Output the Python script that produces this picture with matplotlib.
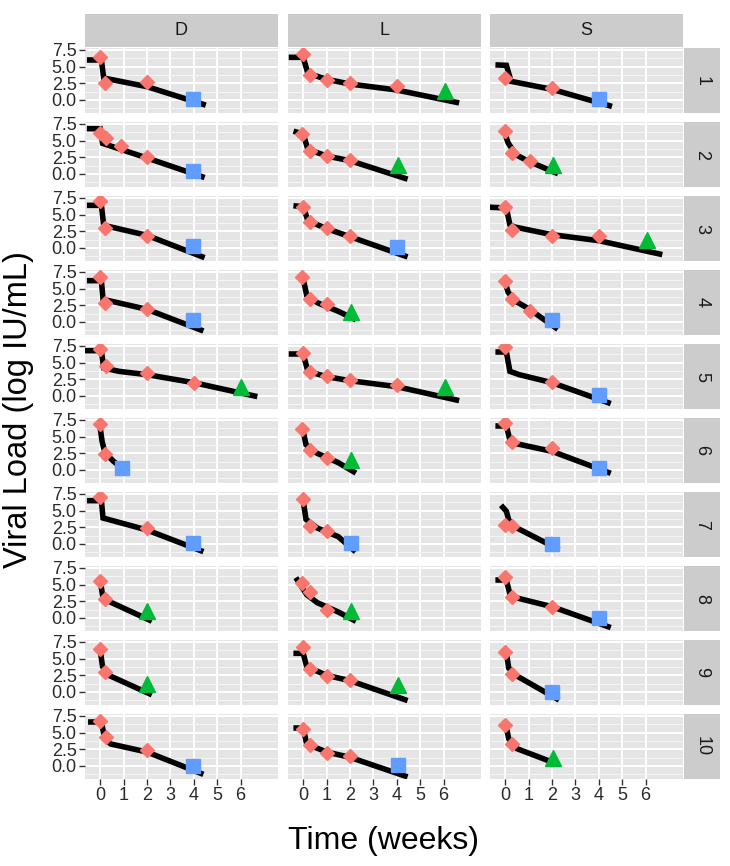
import matplotlib.pyplot as plt

plt.rcParams['font.family'] = ['Liberation Sans', 'DejaVu Sans']

groups = ['D', 'L', 'S']
patients = ['1', '2', '3', '4', '5', '6', '7', '8', '9', '10']
x_ticks = [0, 1, 2, 3, 4, 5, 6]
y_ticks = [0, 2.5, 5, 7.5]
y_tick_labels = ['0.0', '2.5', '5.0', '7.5']

# model fit (week, log10 VL) for each patient
fit_D = [
    [(-0.45, 6.0), (0.05, 6.0), (0.15, 3.3), (2, 2.0), (4.4, -0.65)],
    [(-0.45, 6.8), (0.0, 6.8), (0.1, 4.6), (2, 2.4), (4.35, -0.4)],
    [(-0.45, 6.4), (0.05, 6.4), (0.15, 3.4), (2, 1.9), (4.35, -1.3)],
    [(-0.45, 6.2), (0.05, 6.2), (0.12, 3.4), (2, 1.9), (4.3, -1.2)],
    [(-0.6, 6.8), (0.05, 6.8), (0.15, 4.2), (0.8, 3.7), (2, 3.2), (4, 2.0), (6.6, 0.0)],
    [(-0.02, 6.8), (0.08, 4.3), (0.2, 2.6), (0.57, 1.3), (0.95, 0.25)],
    [(-0.45, 6.5), (0.05, 6.5), (0.12, 3.9), (2, 2.1), (4.3, -1.0)],
    [(0, 5.7), (0.1, 3.4), (0.43, 2.4), (2.1, -0.3)],
    [(0, 6.3), (0.1, 3.8), (0.43, 2.4), (2.1, -0.25)],
    [(-0.4, 6.6), (0.05, 6.6), (0.2, 4.0), (0.45, 3.3), (2, 2.1), (4.3, -1.1)],
]
fit_L = [
    [(-0.5, 6.4), (0.0, 6.4), (0.2, 4.0), (1, 3.1), (2, 2.4), (4, 1.5), (6.55, -0.35)],
    [(-0.3, 6.3), (0.0, 6.0), (0.2, 3.7), (1, 2.7), (2, 2.0), (4.35, -0.65)],
    [(-0.3, 6.3), (0.0, 6.2), (0.2, 4.1), (1, 2.9), (2, 1.7), (4.35, -1.2)],
    [(0, 6.5), (0.15, 4.0), (0.6, 2.9), (1.5, 1.6), (2.15, 0.5)],
    [(-0.5, 6.3), (0.0, 6.3), (0.2, 3.7), (1, 2.9), (2, 2.3), (4, 1.4), (6.55, -0.6)],
    [(0, 5.8), (0.12, 3.8), (0.6, 2.5), (1.5, 1.1), (2.15, -0.25)],
    [(0, 6.5), (0.12, 3.7), (0.6, 2.4), (1.5, 1.1), (2.15, -0.9)],
    [(-0.25, 5.7), (0.15, 3.5), (0.6, 2.3), (1.5, 0.9), (2.15, -0.3)],
    [(-0.3, 5.8), (0.0, 5.8), (0.15, 3.8), (1, 2.5), (2, 1.7), (4.35, -1.15)],
    [(-0.3, 5.7), (0.0, 5.7), (0.15, 3.3), (1, 2.1), (2, 1.3), (4.35, -1.5)],
]
fit_S = [
    [(-0.3, 5.25), (0.05, 5.2), (0.25, 2.8), (2, 1.6), (4.45, -0.85)],
    [(0, 6.0), (0.12, 4.7), (0.45, 2.9), (1, 1.9), (2.15, 0.2)],
    [(-0.55, 6.1), (0.05, 6.0), (0.2, 3.5), (0.4, 3.15), (2, 2.0), (4, 1.1), (6.6, -0.9)],
    [(0, 6.0), (0.12, 4.5), (0.4, 3.2), (1, 2.0), (2.15, -0.85)],
    [(-0.3, 6.6), (0.05, 6.6), (0.2, 3.7), (0.6, 3.2), (2, 2.0), (4.4, -1.0)],
    [(-0.3, 6.6), (0.05, 6.6), (0.18, 4.8), (0.4, 4.0), (2, 2.8), (4.4, -0.35)],
    [(-0.1, 5.5), (0.05, 4.9), (0.15, 3.6), (0.5, 2.4), (2.2, -0.65)],
    [(-0.3, 5.7), (0.05, 5.7), (0.2, 3.6), (0.5, 3.0), (2, 1.7), (4.4, -1.3)],
    [(0.05, 5.9), (0.15, 3.6), (0.5, 2.4), (2.2, -1.0)],
    [(0.05, 5.8), (0.15, 4.1), (0.5, 2.6), (2.07, 0.5)],
]

# observed viral loads (red diamonds)
obs_D = [
    [(0, 6.4), (0.2, 2.55), (2, 2.65)],
    [(0, 6.15), (0.26, 5.4), (0.9, 4.15), (2, 2.6)],
    [(0, 7.1), (0.21, 3.0), (2, 1.75)],
    [(0, 6.7), (0.21, 2.85), (2, 2.0)],
    [(0, 7.1), (0.26, 4.5), (2, 3.5), (4, 2.0)],
    [(0, 6.9), (0.21, 2.4)],
    [(0, 7.1), (2, 2.35)],
    [(0, 5.5), (0.2, 2.9)],
    [(0, 6.45), (0.2, 3.05)],
    [(0, 6.8), (0.26, 4.4), (2, 2.4)],
]
obs_L = [
    [(0, 6.9), (0.3, 3.8), (1, 3.05), (2, 2.55), (4, 2.05)],
    [(-0.05, 5.95), (0.3, 3.4), (1, 2.65), (2, 2.1)],
    [(0, 6.2), (0.3, 3.9), (1, 3.05), (2, 1.75)],
    [(-0.05, 6.7), (0.3, 3.45), (1, 2.7)],
    [(0, 6.5), (0.3, 3.6), (1, 2.95), (2, 2.35), (4, 1.7)],
    [(-0.07, 6.1), (0.3, 3.05), (1, 1.8)],
    [(0, 6.7), (0.3, 2.75), (1, 1.9)],
    [(-0.05, 5.3), (0.3, 3.9), (1, 1.25)],
    [(0, 6.7), (0.3, 3.4), (1, 2.4), (2, 1.8)],
    [(0, 5.5), (0.3, 3.1), (1, 2.0), (2, 1.45)],
]
obs_S = [
    [(0, 3.3), (2, 1.8)],
    [(0, 6.5), (0.3, 3.15), (1.05, 2.0)],
    [(0, 6.2), (0.3, 2.65), (2, 1.75), (4, 1.75)],
    [(0, 6.1), (0.3, 3.4), (1.05, 1.7)],
    [(0, 7.3), (2, 2.05)],
    [(0, 7.1), (0.3, 4.2), (2, 3.3)],
    [(0, 2.9), (0.3, 2.65)],
    [(0, 6.2), (0.3, 3.15), (2, 1.65)],
    [(0, 5.95), (0.3, 2.7)],
    [(0, 6.2), (0.3, 3.35)],
]

# last visit: TND = target not detected (blue square), TD = detected (green triangle)
end_D = [('TND', 3.95, 0.15), ('TND', 3.95, 0.45), ('TND', 3.95, 0.25), ('TND', 3.95, 0.25),
         ('TD', 6.0, 1.3), ('TND', 0.95, 0.35), ('TND', 3.95, 0.1), ('TD', 2.0, 1.1),
         ('TD', 2.0, 1.2), ('TND', 3.95, 0.0)]
end_L = [('TD', 6.05, 1.3), ('TD', 4.05, 1.35), ('TND', 4.0, 0.1), ('TD', 2.05, 1.5),
         ('TD', 6.05, 1.4), ('TD', 2.05, 1.5), ('TND', 2.05, 0.1), ('TD', 2.05, 1.1),
         ('TD', 4.05, 1.05), ('TND', 4.05, 0.1)]
end_S = [('TND', 4.0, 0.15), ('TD', 2.05, 1.3), ('TD', 6.05, 1.25), ('TND', 2.0, 0.3),
         ('TND', 4.0, 0.15), ('TND', 4.0, 0.35), ('TND', 2.0, 0.0), ('TND', 4.0, -0.05),
         ('TND', 2.0, 0.0), ('TD', 2.05, 1.25)]

fits = [fit_D, fit_L, fit_S]
obs = [obs_D, obs_L, obs_S]
ends = [end_D, end_L, end_S]

end_style = {'TND': ('s', '#619CFF', 10), 'TD': ('^', '#00BA38', 11)}

W, H = 730, 866
col_x = [85, 288, 490]
panel_w, panel_h = 193, 65
top0, row_step = 48, 74


def box(x, y, w, h):
    return [x / W, 1 - (y + h) / H, w / W, h / H]


fig = plt.figure(figsize=(W / 100, H / 100), dpi=100)

for c, g in enumerate(groups):
    # column strip
    sax = fig.add_axes(box(col_x[c], 14, panel_w, 33))
    sax.set_facecolor('#CCCCCC')
    sax.set_xticks([])
    sax.set_yticks([])
    for s in sax.spines.values():
        s.set_visible(False)
    sax.text(0.5, 0.5, g, ha='center', va='center', fontsize=13, color='#1A1A1A',
             transform=sax.transAxes)

    for r in range(len(patients)):
        top = top0 + r * row_step
        ax = fig.add_axes(box(col_x[c], top, panel_w, panel_h))
        ax.set_facecolor('#E5E5E5')
        ax.set_xlim(-0.65, 7.6)
        ax.set_ylim(-1.95, 7.8)
        ax.set_xticks(x_ticks)
        ax.set_yticks(y_ticks)
        ax.set_yticks([-1.25, 1.25, 3.75, 6.25], minor=True)
        ax.grid(which='major', color='white', lw=1.4)
        ax.grid(which='minor', axis='y', color='#F4F4F4', lw=0.8)
        ax.set_axisbelow(True)
        for s in ax.spines.values():
            s.set_visible(False)
        ax.tick_params(which='minor', length=0)
        ax.tick_params(which='major', length=4, width=1, color='#333333',
                       labelsize=13, labelcolor='#2A2A2A', pad=2)

        if c == 0:
            ax.set_yticklabels(y_tick_labels)
        else:
            ax.tick_params(axis='y', length=0, labelleft=False)
        if r == len(patients) - 1:
            ax.set_xticklabels([str(t) for t in x_ticks])
        else:
            ax.tick_params(axis='x', length=0, labelbottom=False)

        ft = [p[0] for p in fits[c][r]]
        fy = [p[1] for p in fits[c][r]]
        ax.plot(ft, fy, color='black', lw=4, solid_capstyle='projecting',
                solid_joinstyle='miter', zorder=2)

        ot = [p[0] for p in obs[c][r]]
        oy = [p[1] for p in obs[c][r]]
        ax.plot(ot, oy, 'D', color='#F8766D', ms=7, mec='#F8766D', zorder=3)

        kind, et, ey = ends[c][r]
        mk, col, ms = end_style[kind]
        ax.plot([et], [ey], mk, color=col, ms=ms, mec=col, zorder=4)

        if c == len(groups) - 1:
            rax = fig.add_axes(box(684, top, 36, panel_h))
            rax.set_facecolor('#CCCCCC')
            rax.set_xticks([])
            rax.set_yticks([])
            for s in rax.spines.values():
                s.set_visible(False)
            rax.text(0.5, 0.5, patients[r], ha='center', va='center', rotation=-90,
                     fontsize=13, color='#1A1A1A', transform=rax.transAxes)

fig.text(384 / W, 1 - 841 / H, 'Time (weeks)', ha='center', va='center', fontsize=23)
fig.text(19 / W, 1 - 410 / H, 'Viral Load (log IU/mL)', ha='center', va='center',
         rotation=90, fontsize=23.5)

fig.savefig('out.png', dpi=100)
